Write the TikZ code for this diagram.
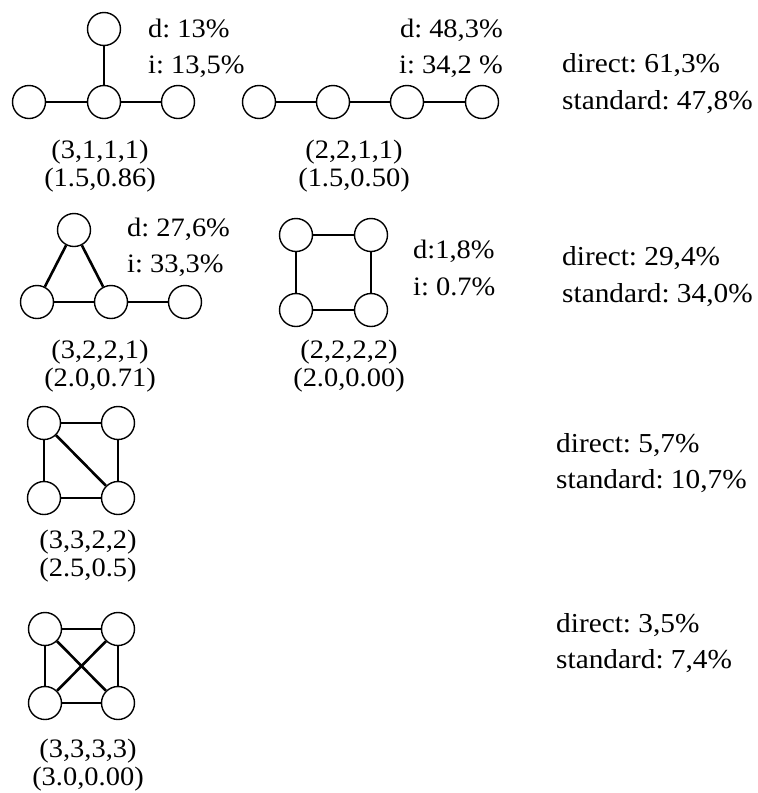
\documentclass[tikz,border=0pt]{standalone}
\usepackage{fontspec}
\setmainfont{Liberation Serif}[FakeStretch=1.07]
\begin{document}
\frenchspacing
\begin{tikzpicture}[x=1pt,y=-1pt,
  vert/.style={circle,draw,line width=1.4pt,minimum size=33pt,inner sep=0pt},
  edge/.style={line width=2.6pt},
  txt/.style={inner sep=0pt,font=\fontsize{26.6}{30}\selectfont},
  lw/.style={txt,anchor=base west},
  le/.style={txt,anchor=base east},
  lc/.style={txt,anchor=base},
  rw/.style={lw,font=\fontsize{27.4}{30}\selectfont}]
\useasboundingbox (0,0) rectangle (758,793);
% graph 1
\node[vert] (a1) at (104,29) {};
\node[vert] (b1) at (29,102) {};
\node[vert] (c1) at (104,102) {};
\node[vert] (e1) at (178,102) {};
\draw[edge] (a1) -- (c1);
\draw[edge] (b1) -- (c1);
\draw[edge] (c1) -- (e1);
\node[lw] (d1) at (148,37) {d: 13\%};
\node[lw] (i1) at (148,73) {i: 13,5\%};
\node[lc] (p1) at (100,158) {(3,1,1,1)};
\node[lc] (q1) at (100,186) {(1.5,0.86)};
% graph 2
\node[vert] (a2) at (259,102) {};
\node[vert] (b2) at (333,102) {};
\node[vert] (c2) at (407,102) {};
\node[vert] (e2) at (482,102) {};
\draw[edge] (a2) -- (b2);
\draw[edge] (b2) -- (c2);
\draw[edge] (c2) -- (e2);
\node[le] (d2) at (503,37) {d: 48,3\%};
\node[le] (i2) at (503,73) {i: 34,2 \%};
\node[lc] (p2) at (354,158) {(2,2,1,1)};
\node[lc] (q2) at (354,186) {(1.5,0.50)};
\node[rw] (r1) at (562,72) {direct: 61,3\%};
\node[rw] (s1) at (562,109) {standard: 47,8\%};
% graph 3
\node[vert] (a3) at (74,230) {};
\node[vert] (b3) at (37,302) {};
\node[vert] (c3) at (111,302) {};
\node[vert] (e3) at (185,302) {};
\draw[edge] (a3) -- (b3);
\draw[edge] (a3) -- (c3);
\draw[edge] (b3) -- (c3);
\draw[edge] (c3) -- (e3);
\node[lw] (d3) at (127,236) {d: 27,6\%};
\node[lw] (i3) at (127,272) {i: 33,3\%};
\node[lc] (p3) at (100,358) {(3,2,2,1)};
\node[lc] (q3) at (100,386) {(2.0,0.71)};
% graph 4
\node[vert] (a4) at (296,235) {};
\node[vert] (b4) at (371,235) {};
\node[vert] (c4) at (296,310) {};
\node[vert] (e4) at (371,310) {};
\draw[edge] (a4) -- (b4);
\draw[edge] (b4) -- (e4);
\draw[edge] (e4) -- (c4);
\draw[edge] (c4) -- (a4);
\node[lw] (d4) at (413,258) {d:1,8\%};
\node[lw] (i4) at (413,295) {i: 0.7\%};
\node[lc] (p4) at (349,358) {(2,2,2,2)};
\node[lc] (q4) at (349,386) {(2.0,0.00)};
\node[rw] (r2) at (562,265) {direct: 29,4\%};
\node[rw] (s2) at (562,302) {standard: 34,0\%};
% graph 5
\node[vert] (a5) at (44,423) {};
\node[vert] (b5) at (118,423) {};
\node[vert] (c5) at (44,498) {};
\node[vert] (e5) at (118,498) {};
\draw[edge] (a5) -- (b5);
\draw[edge] (b5) -- (e5);
\draw[edge] (e5) -- (c5);
\draw[edge] (c5) -- (a5);
\draw[edge] (a5) -- (e5);
\node[lc] (p5) at (88,548) {(3,3,2,2)};
\node[lc] (q5) at (88,576) {(2.5,0.5)};
\node[rw] (r3) at (556,452) {direct: 5,7\%};
\node[rw] (s3) at (556,488) {standard: 10,7\%};
% graph 6
\node[vert] (a6) at (45,629) {};
\node[vert] (b6) at (118,629) {};
\node[vert] (c6) at (45,703) {};
\node[vert] (e6) at (118,703) {};
\draw[edge] (a6) -- (b6);
\draw[edge] (b6) -- (e6);
\draw[edge] (e6) -- (c6);
\draw[edge] (c6) -- (a6);
\draw[edge] (a6) -- (e6);
\draw[edge] (b6) -- (c6);
\node[lc] (p6) at (88,757) {(3,3,3,3)};
\node[lc] (q6) at (88,785) {(3.0,0.00)};
\node[rw] (r4) at (556,632) {direct: 3,5\%};
\node[rw] (s4) at (556,668) {standard: 7,4\%};
\end{tikzpicture}
\end{document}
